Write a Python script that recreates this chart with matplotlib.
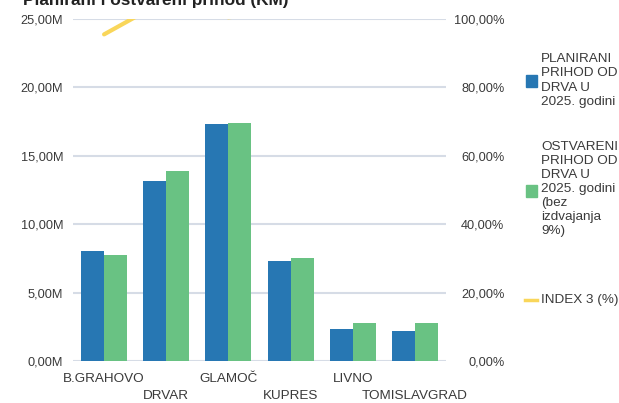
import matplotlib
matplotlib.use("Agg")
import matplotlib.pyplot as plt
import numpy as np
from matplotlib.ticker import FuncFormatter
from matplotlib.patches import Rectangle
from matplotlib.lines import Line2D

plt.rcParams['font.family'] = ['Liberation Sans', 'DejaVu Sans']

categories = ["B.GRAHOVO", "DRVAR", "GLAMOČ", "KUPRES", "LIVNO", "TOMISLAVGRAD"]
planirani = [8.07, 13.18, 17.33, 7.34, 2.37, 2.17]      # millions KM
ostvareni = [7.78, 13.86, 17.42, 7.54, 2.76, 2.76]      # millions KM
index3 = [95.5, 105.6, 100.5, 102.7, 116.5, 127.2]     # %

series_labels = ["PLANIRANI\nPRIHOD OD\nDRVA U\n2025. godini",
                 "OSTVARENI\nPRIHOD OD\nDRVA U\n2025. godini\n(bez\nizdvajanja\n9%)",
                 "INDEX 3 (%)"]
title = "Planirani i ostvareni prihod (KM)"

blue = "#2777B3"
green = "#69C283"
yellow = "#F9D65A"
grid_c = "#D6DCE6"
txt_c = "#3A3A3A"

W, H = 619, 403
fig = plt.figure(figsize=(W/100, H/100), dpi=100)
ax = fig.add_axes([73/W, 1-361/H, (446-73)/W, (361-19)/H])

x = np.arange(len(categories))
bw = 0.37
ax.bar(x - bw/2, planirani, bw, color=blue, zorder=3)
ax.bar(x + bw/2, ostvareni, bw, color=green, zorder=3)

ax.set_xlim(-0.5, len(categories) - 0.5)
ax.set_ylim(0, 25)
ax.set_yticks(np.arange(0, 26, 5))
ax.yaxis.set_major_formatter(FuncFormatter(lambda v, p: f"{v:.2f}".replace('.', ',') + "M"))
ax.grid(axis='y', color=grid_c, linewidth=1.5, zorder=0)
for s in ax.spines.values():
    s.set_visible(False)
ax.tick_params(axis='y', length=0, pad=7, labelsize=9.2, labelcolor=txt_c)

# staggered category labels
ax.set_xticks(x)
ax.set_xticklabels([])
ax.tick_params(axis='x', length=0)
trans = ax.get_xaxis_transform()
axh = 361 - 19
for i, c in enumerate(categories):
    off = 12 if i % 2 == 0 else 29
    ax.text(x[i], -off/axh, c, transform=trans, ha='center', va='top',
            fontsize=9.7, color=txt_c, clip_on=False)

ax2 = ax.twinx()
ax2.set_ylim(0, 100)
ax2.set_yticks(np.arange(0, 101, 20))
ax2.yaxis.set_major_formatter(FuncFormatter(lambda v, p: f"{v:.2f}".replace('.', ',') + "%"))
for s in ax2.spines.values():
    s.set_visible(False)
ax2.tick_params(axis='y', length=0, pad=42, labelsize=9.2, labelcolor=txt_c)
for lab in ax2.get_yticklabels():
    lab.set_horizontalalignment('right')
ax2.plot(x, index3, color=yellow, linewidth=3, solid_capstyle='round', zorder=4)

# title (partially cut off at top)
fig.text(23/W, 1 - 5/H, title, fontsize=12.4, fontweight='bold', color="#222222",
         ha='left', va='baseline')

# legend (manual)
def fx(px):
    return px / W
def fy(py):
    return 1 - py / H

entries = [(blue, 'patch', 81, 80.5, series_labels[0]),
           (green, 'patch', 191, 189, series_labels[1]),
           (yellow, 'line', 300, 300, series_labels[2])]
for col, kind, cy, ty, lab in entries:
    if kind == 'patch':
        fig.add_artist(Rectangle((fx(526), fy(cy + 6)), 11/W, 12/H,
                                 color=col, transform=fig.transFigure))
    else:
        fig.add_artist(Line2D([fx(525), fx(537)], [fy(cy), fy(cy)], color=col,
                              linewidth=2.5, transform=fig.transFigure))
    fig.text(fx(541), fy(ty), lab, fontsize=9.7, color=txt_c, ha='left', va='center',
             linespacing=1.24)

fig.savefig("out.png", dpi=100)
